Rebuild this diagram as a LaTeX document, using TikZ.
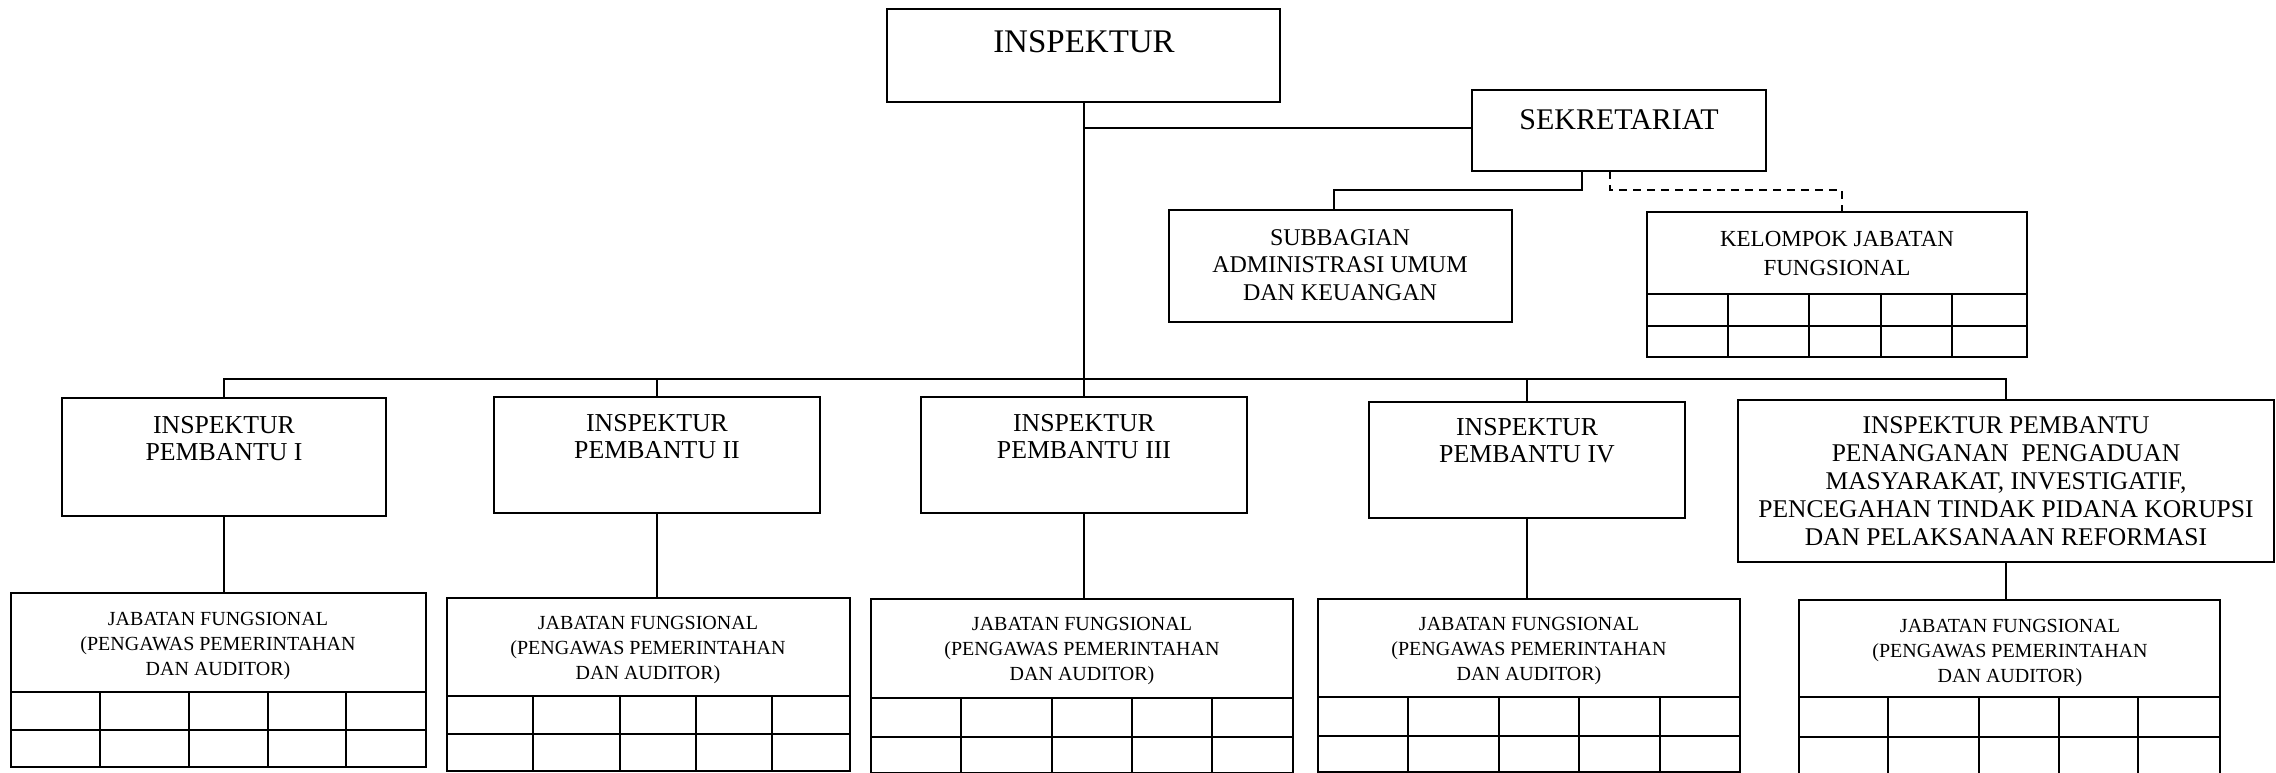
\documentclass[tikz,border=0pt]{standalone}
\usepackage{fontspec}
\setmainfont{Liberation Serif}
\usetikzlibrary{calc}

\tikzset{
  unitbox/.style={draw, rectangle, line width=1.4pt, inner sep=0pt, outer sep=0pt, anchor=north west},
  gridbox/.style={unitbox, line width=2.2pt},
  conn/.style={line width=2pt},
  dconn/.style={line width=2pt, dashed, dash pattern=on 8pt off 6pt},
  gridline/.style={line width=2.2pt},
  lbl/.style={inner sep=0pt, outer sep=0pt, align=center, anchor=base},
}

% a five-column, two-row grid under the heading of a functional-group box
\newcommand{\gridrows}[7]{%
  \draw[gridline] (#1.west |- 0,#2) -- (#1.east |- 0,#2);
  \draw[gridline] (#1.west |- 0,#3) -- (#1.east |- 0,#3);
  \foreach \cx in {#4,#5,#6,#7}
    \draw[gridline] (\cx,#2) -- (\cx,0 |- #1.south);
}

\begin{document}
\begin{tikzpicture}[x=1pt,y=-1pt]
\useasboundingbox (0,0) rectangle (2276,773);

% ---- top level ----
% (label nodes are placed at the baseline of their last line)
\node[unitbox, minimum width=393pt, minimum height=93pt] (insp) at (887,9) {};
\node[lbl, font=\fontsize{33}{36}\selectfont] (inspT) at (1084,53) {INSPEKTUR};

\node[unitbox, minimum width=294pt, minimum height=81pt] (sek) at (1472,90) {};
\node[lbl, font=\fontsize{30}{33}\selectfont] (sekT) at (1619,130) {SEKRETARIAT};

\node[unitbox, minimum width=343pt, minimum height=112pt] (sub) at (1169,210) {};
\node[lbl, font=\fontsize{24}{27.5}\selectfont] (subT) at (1340,300)
  {SUBBAGIAN\\ADMINISTRASI UMUM\\DAN KEUANGAN};

\node[gridbox, minimum width=380pt, minimum height=145pt] (kel) at (1647,212) {};
\node[lbl, font=\fontsize{23}{29}\selectfont] (kelT) at (1837,275)
  {KELOMPOK JABATAN\\FUNGSIONAL};
\gridrows{kel}{294}{326}{1728}{1809}{1881}{1952}

% ---- inspektur pembantu ----
\node[unitbox, minimum width=324pt, minimum height=118pt] (ip1) at (62,398) {};
\node[unitbox, minimum width=326pt, minimum height=116pt] (ip2) at (494,397) {};
\node[unitbox, minimum width=326pt, minimum height=116pt] (ip3) at (921,397) {};
\node[unitbox, minimum width=316pt, minimum height=116pt] (ip4) at (1369,402) {};
\node[unitbox, minimum width=536pt, minimum height=162pt] (ip5) at (1738,400) {};

\begin{scope}[every node/.style={lbl, font=\fontsize{25.8}{27.5}\selectfont}]
  \node (ip1T) at (224,460.5) {INSPEKTUR\\PEMBANTU I};
  \node (ip2T) at (657,458.5) {INSPEKTUR\\PEMBANTU II};
  \node (ip3T) at (1084,458.5) {INSPEKTUR\\PEMBANTU III};
  \node (ip4T) at (1527,462.5) {INSPEKTUR\\PEMBANTU IV};
  \node[font=\fontsize{25.5}{28}\selectfont] (ip5T) at (2006,545)
    {INSPEKTUR PEMBANTU\\PENANGANAN\ \ PENGADUAN\\MASYARAKAT, INVESTIGATIF,\\PENCEGAHAN TINDAK PIDANA KORUPSI\\DAN PELAKSANAAN REFORMASI};
\end{scope}

% ---- jabatan fungsional ----
\node[gridbox, minimum width=415pt, minimum height=174pt] (jf1) at (11,593) {};
\node[gridbox, minimum width=403pt, minimum height=173pt] (jf2) at (447,598) {};
\node[gridbox, minimum width=422pt, minimum height=174pt] (jf3) at (871,599) {};
\node[gridbox, minimum width=422pt, minimum height=173pt] (jf4) at (1318,599) {};
\node[gridbox, minimum width=421pt, minimum height=174pt] (jf5) at (1799,600) {};

\begin{scope}[every node/.style={lbl, font=\fontsize{20}{25}\selectfont}]
  \node (jf1T) at (218,675) {JABATAN FUNGSIONAL\\(PENGAWAS PEMERINTAHAN\\DAN AUDITOR)};
  \node (jf2T) at (648,679) {JABATAN FUNGSIONAL\\(PENGAWAS PEMERINTAHAN\\DAN AUDITOR)};
  \node (jf3T) at (1082,680) {JABATAN FUNGSIONAL\\(PENGAWAS PEMERINTAHAN\\DAN AUDITOR)};
  \node (jf4T) at (1529,680) {JABATAN FUNGSIONAL\\(PENGAWAS PEMERINTAHAN\\DAN AUDITOR)};
  \node (jf5T) at (2010,682) {JABATAN FUNGSIONAL\\(PENGAWAS PEMERINTAHAN\\DAN AUDITOR)};
\end{scope}

\gridrows{jf1}{692}{730}{100}{189}{268}{346}
\gridrows{jf2}{696}{734}{533}{620}{696}{772}
\gridrows{jf3}{698}{737}{961}{1052}{1132}{1212}
\gridrows{jf4}{697}{736}{1408}{1499}{1579}{1660}
\gridrows{jf5}{697}{737}{1888}{1979}{2059}{2138}

% ---- connectors ----
\coordinate (bus) at (0,379);
\draw[conn] (insp.south) -- (insp.south |- bus);
\draw[conn] (insp.south |- 0,128) -- (sek.west |- 0,128);
\draw[conn] (ip1.north) -- (ip1.north |- bus) -- (ip5.north |- bus) -- (ip5.north);
\foreach \n in {ip2,ip3,ip4}
  \draw[conn] (\n.north |- bus) -- (\n.north);

\draw[conn] ([xshift=-37pt]sek.south) -- ++(0,19) -| ([xshift=-7pt]sub.north);
\draw[dconn] ([xshift=-9pt]sek.south) -- ++(0,19) -| ([xshift=5pt]kel.north);

\foreach \a/\b in {ip1/jf1,ip2/jf2,ip3/jf3,ip4/jf4,ip5/jf5}
  \draw[conn] (\a.south) -- (\a.south |- \b.north);
\end{tikzpicture}
\end{document}
